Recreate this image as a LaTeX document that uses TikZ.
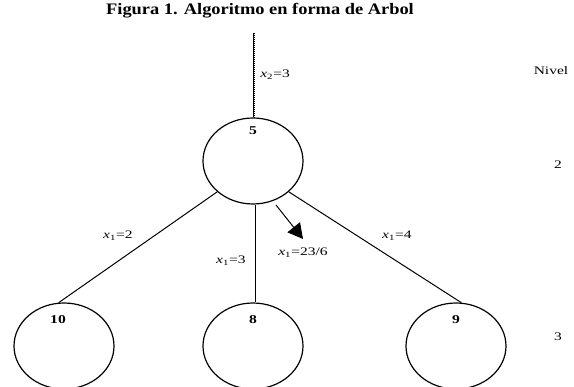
\documentclass[tikz,border=0pt]{standalone}
\usepackage{fontspec}
\setmainfont{Liberation Serif}
\usetikzlibrary{shapes.geometric,arrows.meta,positioning}
\tikzset{
  nodo/.style={draw, ellipse, line width=1.2pt, minimum width=100pt, minimum height=86pt, inner sep=0pt},
  num/.style={font=\bfseries\fontsize{12}{14}\selectfont, xscale=1.3, transform shape, inner sep=0pt},
  lbl/.style={font=\fontsize{11.5}{13}\selectfont, xscale=1.35, transform shape, inner sep=0pt},
  rama/.style={line width=1pt}
}
\begin{document}
\begin{tikzpicture}[x=1pt, y=-1pt]
    \useasboundingbox (0,0) rectangle (574,387);
    % title
    \node[font=\bfseries\fontsize{16}{18}\selectfont, xscale=1.15, transform shape, inner sep=0pt] (titulo) at (260,11) {Figura 1. Algoritmo en forma de Arbol};
    % level column
    \node[lbl] (nivel) at (551,71) {Nivel};
    \node[lbl] (niv2) at (558,165) {2};
    \node[lbl] (niv3) at (558,337) {3};
    % root
    \node[nodo] (raiz) at (253,161) {};
    \node[num, below=9pt of raiz.north] (v5) {5};
    % stem on top
    \coordinate (arriba) at (253,33);
    \draw[rama] (arriba) -- (raiz.north);
    \draw[line width=1pt, densely dotted] ([xshift=1pt]arriba) -- ([xshift=1pt]raiz.north);
    \node[lbl, anchor=west] (x2) at (260,75) {\textit{x}\textsubscript{2}=3};
    % children
    \foreach \nm/\xx/\val/\dx in {izq/64/10/-6, med/253/8/0, der/456/9/0} {
        \node[nodo] (\nm) at (\xx,346) {};
        \node[num] (v\nm) at (\xx+\dx,320) {\val};
    }
    % branches
    \draw[rama] (raiz.south west) -- (izq.97);
    \draw[rama] ([xshift=2pt]raiz.south) -- ([xshift=2pt]med.north);
    \draw[rama] (raiz.south east) -- (der.83);
    % branch labels
    \node[lbl] (e1) at (118,236) {\textit{x}\textsubscript{1}=2};
    \node[lbl] (e2) at (231,261) {\textit{x}\textsubscript{1}=3};
    \node[lbl] (e4) at (397,236) {\textit{x}\textsubscript{1}=4};
    \node[lbl, anchor=west] (e3) at (278,253) {\textit{x}\textsubscript{1}=23/6};
    % arrow
    \coordinate (f0) at (276,205);
    \coordinate (f1) at (303,239);
    \draw[rama, -{Triangle[length=15pt, width=16pt]}] (f0) -- (f1);
\end{tikzpicture}
\end{document}
